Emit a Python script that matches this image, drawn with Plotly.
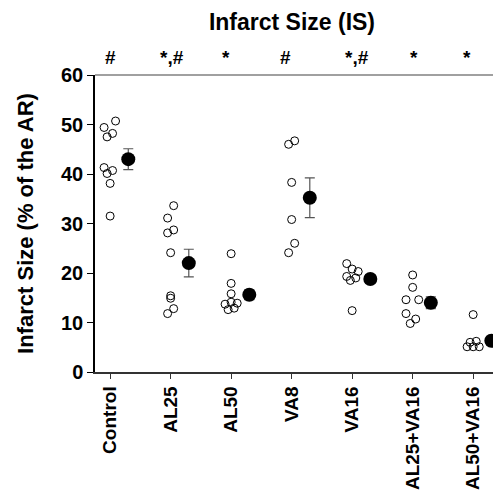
import plotly.graph_objects as go

categories = ["Control", "AL25", "AL50", "VA8", "VA16", "AL25+VA16", "AL50+VA16"]
significance = ["#", "*,#", "*", "#", "*,#", "*", "*"]

# individual values (% of AR) per group
control = [50.7, 49.4, 48.2, 47.5, 41.3, 40.7, 40.1, 38.1, 31.5]
al25 = [33.6, 31.1, 28.7, 28.1, 24.1, 15.4, 14.9, 12.8, 11.8]
al50 = [23.9, 17.9, 15.8, 14.1, 13.7, 13.9, 12.9, 12.6]
va8 = [46.7, 46.0, 38.3, 30.8, 26.0, 24.1]
va16 = [21.9, 20.8, 20.3, 19.3, 19.0, 18.5, 12.4]
al25_va16 = [19.6, 17.1, 14.6, 14.6, 11.8, 10.7, 9.8]
al50_va16 = [11.6, 6.0, 6.2, 5.1, 5.1, 5.1]

# horizontal jitter of the individual points (category units)
jit_control = [0.09, -0.10, 0.04, -0.05, -0.10, 0.04, -0.05, 0.0, 0.0]
jit_al25 = [0.05, -0.05, 0.05, -0.05, 0.0, 0.0, 0.0, 0.05, -0.05]
jit_al50 = [0.0, 0.0, 0.0, 0.0, -0.10, 0.10, 0.05, -0.05]
jit_va8 = [0.05, -0.05, 0.0, 0.0, 0.05, -0.05]
jit_va16 = [-0.09, 0.0, 0.10, -0.09, 0.06, -0.03, 0.0]
jit_al25_va16 = [0.0, 0.0, -0.11, 0.10, -0.11, 0.05, -0.04]
jit_al50_va16 = [0.0, -0.05, 0.05, -0.10, 0.0, 0.10]

means = [43.0, 22.0, 15.6, 35.2, 18.8, 14.0, 6.3]
sems = [2.1, 2.8, 1.0, 4.0, 0.9, 1.2, 0.3]

groups = [control, al25, al50, va8, va16, al25_va16, al50_va16]
jitters = [jit_control, jit_al25, jit_al50, jit_va8, jit_va16, jit_al25_va16, jit_al50_va16]

FONT = "Liberation Sans, Arial, sans-serif"
MEAN_SHIFT = 0.3

fig = go.Figure()
for i, (vals, jit) in enumerate(zip(groups, jitters)):
    fig.add_trace(go.Scatter(
        x=[i + j for j in jit], y=vals, mode="markers",
        marker=dict(symbol="circle-open", size=8, color="black", line=dict(width=1, color="black")),
        showlegend=False, hoverinfo="y"))

fig.add_trace(go.Scatter(
    x=[i + MEAN_SHIFT for i in range(len(categories))], y=means, mode="markers",
    marker=dict(symbol="circle", size=14, color="black"),
    error_y=dict(type="data", array=sems, visible=True, color="#555555", thickness=1.2, width=5),
    showlegend=False))

sig_x = [0.0, 1.03, 1.92, 2.9, 4.08, 5.03, 5.9]
for xv, s in zip(sig_x, significance):
    fig.add_annotation(x=xv, y=1.06, xref="x", yref="paper", yanchor="middle", text="<b>%s</b>" % s,
                       showarrow=False, font=dict(family=FONT, size=19, color="black"))

fig.add_shape(type="line", xref="paper", yref="paper", x0=0, x1=1, y0=1, y1=1,
              line=dict(color="#808080", width=1.5))

fig.update_layout(
    width=493, height=490,
    margin=dict(l=87, r=0, t=67, b=126),
    plot_bgcolor="white", paper_bgcolor="white",
    title=dict(text="<b>Infarct Size (IS)</b>", x=0.576, xanchor="center", y=0.971, yanchor="middle",
               font=dict(family=FONT, size=23, color="black")),
    xaxis=dict(range=[-0.25, 6.46], tickmode="array", tickvals=list(range(len(categories))),
               ticktext=["<b>%s</b>" % c for c in categories], tickangle=-90,
               tickfont=dict(family=FONT, size=19, color="black"),
               showgrid=False, zeroline=False, showline=True, linecolor="#333333", linewidth=1.5,
               ticks="outside", ticklen=5, tickcolor="#333333"),
    yaxis=dict(range=[0, 60], tickmode="array", tickvals=[0, 10, 20, 30, 40, 50, 60],
               ticktext=["<b>%d</b>" % v for v in [0, 10, 20, 30, 40, 50, 60]],
               tickfont=dict(family=FONT, size=20, color="black"),
               title=dict(text="<b>Infarct Size (% of the AR)</b>", font=dict(family=FONT, size=22, color="black"), standoff=21),
               showgrid=False, zeroline=False, showline=True, linecolor="black", linewidth=1.5,
               ticks="outside", ticklen=6, tickcolor="black"),
)

fig.write_html("out.html")
